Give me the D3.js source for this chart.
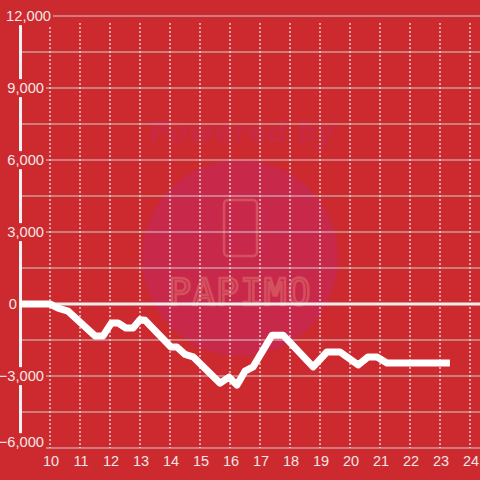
<!DOCTYPE html>
<html>
<head>
<meta charset="utf-8">
<script src="https://cdn.jsdelivr.net/npm/d3@7"></script>
<style>
  html, body { margin: 0; padding: 0; background: #cc2a2f; }
  svg { display: block; }
</style>
</head>
<body>
<div id="chart"></div>
<script>
const width = 480;
const height = 480;
const bg = "#cc2a2f";

// hour of day
const hours = [9, 10, 10.27, 10.6, 11.5, 11.77, 12.05, 12.27, 12.53, 12.77, 13.0, 13.17,
    14.03, 14.23, 14.5, 14.77, 15.67, 15.97, 16.23, 16.5, 16.77, 17.4, 17.77, 18.77,
    19.23, 19.67, 20.27, 20.6, 20.9, 21.23, 23.33];
// balance (coins)
const values = [0, 0, -170, -300, -1330, -1330, -790, -790, -1000, -1000, -650, -680,
    -1790, -1790, -2100, -2200, -3300, -3050, -3380, -2800, -2620, -1300, -1300, -2620,
    -2000, -2000, -2540, -2210, -2210, -2460, -2460];

const xTicks = [10, 11, 12, 13, 14, 15, 16, 17, 18, 19, 20, 21, 22, 23, 24];
const yGrid = [-6000, -4500, -3000, -1500, 0, 1500, 3000, 4500, 6000, 7500, 9000, 10500, 12000];
const yLabels = [-6000, -3000, 0, 3000, 6000, 9000, 12000];

const x = d3.scaleLinear().domain([9, 24.333]).range([20, 480]);
const y = d3.scaleLinear().domain([-6000, 12000]).range([448, 16]);

const svg = d3.select("#chart").append("svg")
    .attr("width", width)
    .attr("height", height);

svg.append("rect").attr("width", width).attr("height", height).attr("fill", bg);

// watermark
const wm = svg.append("g");
wm.append("circle")
    .attr("cx", 240).attr("cy", 258).attr("r", 98)
    .attr("fill", "#c8284a");
wm.append("text")
    .attr("x", 242).attr("y", 142)
    .attr("text-anchor", "middle")
    .attr("font-family", "DejaVu Sans, sans-serif")
    .attr("font-size", 28)
    .attr("font-weight", "bold")
    .attr("font-style", "italic")
    .attr("fill", "#c92a42")
    .text("Powered by");
wm.append("rect")
    .attr("x", 224).attr("y", 200).attr("width", 33).attr("height", 56).attr("rx", 4)
    .attr("fill", "none").attr("stroke", "#d4505f").attr("stroke-width", 2.5);
wm.append("text")
    .attr("x", 240).attr("y", 305)
    .attr("text-anchor", "middle")
    .attr("font-family", "DejaVu Sans Mono, monospace")
    .attr("font-size", 38)
    .attr("letter-spacing", 1)
    .attr("fill", "none")
    .attr("stroke", "#d4505f")
    .attr("stroke-width", 2.5)
    .text("PAPIMO");

// horizontal grid
svg.append("g")
    .selectAll("line")
    .data(yGrid)
    .join("line")
    .attr("x1", 22).attr("x2", width)
    .attr("y1", d => y(d)).attr("y2", d => y(d))
    .attr("stroke", "#cfcfcf")
    .attr("stroke-width", 1.2);

// vertical dotted grid
svg.append("g")
    .selectAll("line")
    .data(xTicks)
    .join("line")
    .attr("x1", d => x(d)).attr("x2", d => x(d))
    .attr("y1", 23).attr("y2", 448)
    .attr("stroke", "#eeeeee")
    .attr("stroke-width", 1.2)
    .attr("stroke-dasharray", "2,2");

// zero line
svg.append("line")
    .attr("x1", 20).attr("x2", width)
    .attr("y1", y(0)).attr("y2", y(0))
    .attr("stroke", "#eeeeee")
    .attr("stroke-width", 3);

// y axis line
svg.append("line")
    .attr("x1", 20.5).attr("x2", 20.5)
    .attr("y1", 24).attr("y2", 437)
    .attr("stroke", "#f2f2f2")
    .attr("stroke-width", 3);

// y labels with background boxes
const ylab = svg.append("g")
    .attr("font-family", "Liberation Sans, Arial, sans-serif")
    .attr("font-size", 14.7)
    .attr("fill", "#f3e6e6");

yLabels.forEach(v => {
    let ty = y(v);
    if (v === -6000) ty -= 6;
    let tx = 44;
    if (v === 12000) tx = 51;
    if (v === 0) tx = 17;
    const t = ylab.append("text")
        .attr("x", tx)
        .attr("y", ty)
        .attr("dy", "0.35em")
        .attr("text-anchor", "end")
        .text(d3.format(",")(v));
    const b = t.node().getBBox();
    ylab.insert("rect", "text")
        .attr("x", b.x - 2).attr("y", b.y - 1)
        .attr("width", b.width + 4).attr("height", b.height + 2)
        .attr("fill", bg);
});

// x labels
svg.append("g")
    .attr("font-family", "Liberation Sans, Arial, sans-serif")
    .attr("font-size", 14.5)
    .attr("fill", "#f3e6e6")
    .attr("text-anchor", "middle")
    .selectAll("text")
    .data(xTicks)
    .join("text")
    .attr("x", d => x(d) + 1)
    .attr("y", 461)
    .attr("dy", "0.35em")
    .text(d => d);

// balance line
const line = d3.line()
    .x((d, i) => x(hours[i]))
    .y(d => y(d));

svg.append("path")
    .datum(values)
    .attr("fill", "none")
    .attr("stroke", "#ffffff")
    .attr("stroke-width", 7)
    .attr("stroke-linejoin", "round")
    .attr("d", line);
</script>
</body>
</html>
